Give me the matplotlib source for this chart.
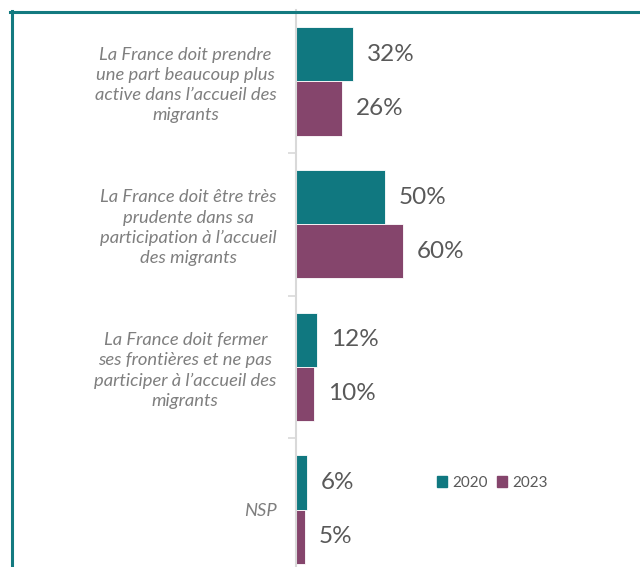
import matplotlib
matplotlib.use("Agg")
import matplotlib.pyplot as plt
from matplotlib.lines import Line2D
from matplotlib.patches import Patch

# données
categories = [
    "La France doit prendre\nune part beaucoup plus\nactive dans l\u2019accueil des\nmigrants",
    "La France doit être très\nprudente dans sa\nparticipation à l\u2019accueil\ndes migrants",
    "La France doit fermer\nses frontières et ne pas\nparticiper à l\u2019accueil des\nmigrants",
    "NSP",
]
years = ["2020", "2023"]
values_2020 = [32, 50, 12, 6]
values_2023 = [26, 60, 10, 5]

TEAL = "#107880"
PURPLE = "#85456c"
BORDER = "#137a80"
W, H = 640, 567

plt.rcParams["font.family"] = ["Lato", "DejaVu Sans"]

fig = plt.figure(figsize=(W / 100, H / 100), dpi=100)
ax = fig.add_axes([296 / W, 1 - 581 / H, 1 - 296 / W, 571 / H])

ypos = list(range(len(categories)))
bh = 0.38
ax.barh([y - bh / 2 for y in ypos], values_2020, height=bh, color=TEAL,
        edgecolor="white", linewidth=0.6, label=years[0])
ax.barh([y + bh / 2 for y in ypos], values_2023, height=bh, color=PURPLE,
        edgecolor="white", linewidth=0.6, label=years[1])

for y, v in zip(ypos, values_2020):
    ax.annotate(f"{v}%", (v, y - bh / 2), xytext=(10, 0), textcoords="offset points",
                va="center", ha="left", fontsize=17.5, color="#595959")
for y, v in zip(ypos, values_2023):
    ax.annotate(f"{v}%", (v, y + bh / 2), xytext=(10, 0), textcoords="offset points",
                va="center", ha="left", fontsize=17.5, color="#595959")

ax.set_xlim(0, 193)
ax.set_ylim(len(categories) - 0.5, -0.5)
ax.set_xticks([])
ax.set_yticks(ypos)
ax.set_yticklabels(categories, fontsize=13.2, fontstyle="italic", color="#7f7f7f",
                   linespacing=1.33)
for lab in ax.get_yticklabels():
    lab.set_multialignment("center")
ax.tick_params(axis="y", which="major", length=0, pad=14)
ax.set_yticks([0.5, 1.5, 2.5], minor=True)
ax.tick_params(axis="y", which="minor", length=6, width=1.2, color="#d9d9d9")
for s in ["top", "right", "bottom"]:
    ax.spines[s].set_visible(False)
ax.spines["left"].set_color("#d9d9d9")
ax.spines["left"].set_linewidth(1.5)

handles = [Patch(color=TEAL, label=years[0]), Patch(color=PURPLE, label=years[1])]
fig.legend(handles=handles, loc="center", bbox_to_anchor=(492 / W, 1 - 483 / H),
           ncol=2, frameon=False, fontsize=11, labelcolor="#595959",
           handlelength=0.7, handleheight=0.7, handletextpad=0.3, columnspacing=0.6)

# cadre
fig.add_artist(Line2D([10 / W, 1], [1 - 11.5 / H] * 2, transform=fig.transFigure,
                      color=BORDER, linewidth=2.2))
fig.add_artist(Line2D([11.5 / W] * 2, [0, 1 - 10.5 / H], transform=fig.transFigure,
                      color=BORDER, linewidth=2.2))

fig.savefig("out.png", dpi=100)
